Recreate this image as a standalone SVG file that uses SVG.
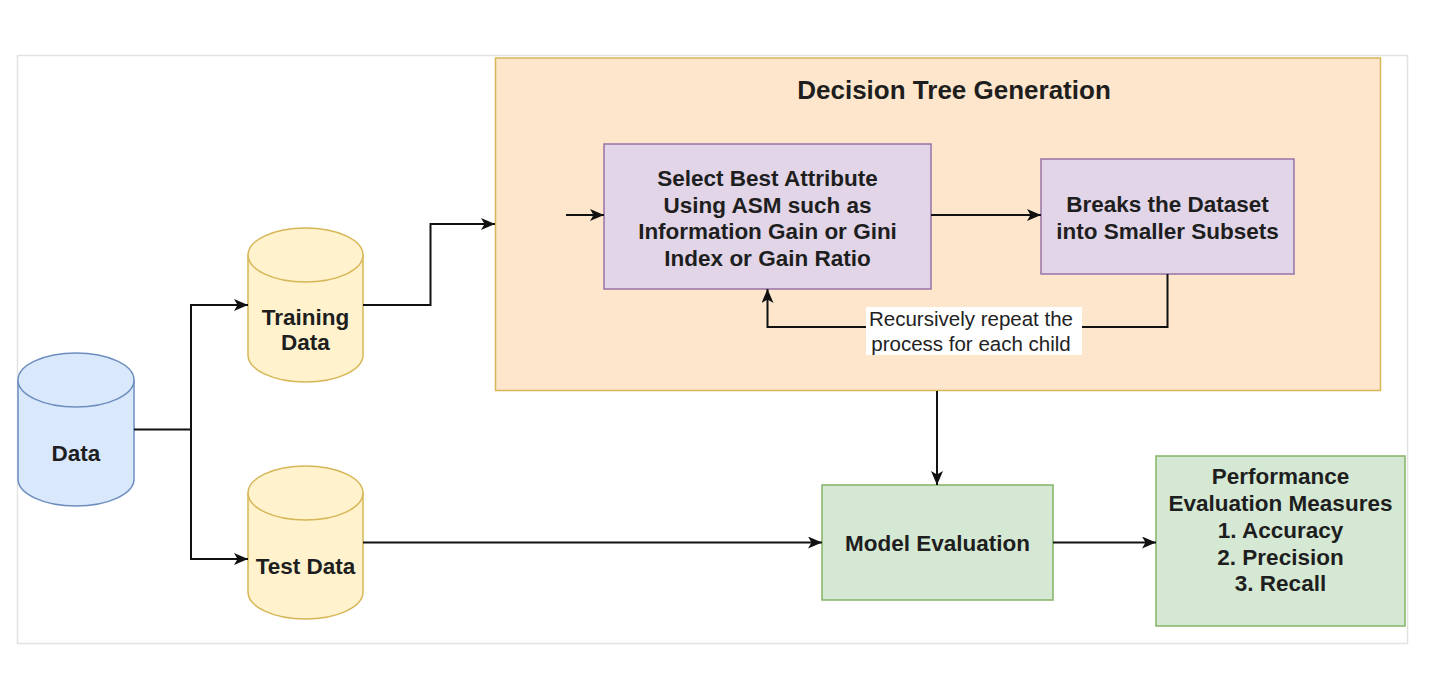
<svg xmlns="http://www.w3.org/2000/svg" width="1434" height="674" viewBox="0 0 1434 674">
<defs>
<style>
.t{font-family:"Liberation Sans",Arial,sans-serif;font-weight:bold;font-size:22.5px;fill:#1e1e1e;text-anchor:middle}
.ti{font-family:"Liberation Sans",Arial,sans-serif;font-weight:bold;font-size:26px;fill:#1e1e1e;text-anchor:middle}
.lb{font-family:"Liberation Sans",Arial,sans-serif;font-size:20.5px;fill:#222;text-anchor:middle}
.c{fill:none;stroke:#111;stroke-width:2}
.yel{fill:#fff2cc;stroke:#d6b656;stroke-width:1.5}
.blu{fill:#dae8fc;stroke:#6c8ebf;stroke-width:1.5}
.pur{fill:#e1d5e7;stroke:#9673a6;stroke-width:1.5}
.grn{fill:#d5e8d4;stroke:#82b366;stroke-width:1.5}
</style>
<marker id="ah" markerUnits="userSpaceOnUse" markerWidth="14" markerHeight="12" viewBox="0 0 14 12" refX="14" refY="6" orient="auto">
<path d="M0,0 L14,6 L0,12 L3.5,6 z" fill="#111"/>
</marker>
</defs>
<rect width="1434" height="674" fill="#fff"/>
<rect x="17.5" y="55.5" width="1390" height="588" fill="#fff" stroke="#e3e3e3" stroke-width="1.5"/>

<g id="dtg">
<rect x="495.5" y="58" width="885" height="332.5" fill="#fde6cc" stroke="#d6b656" stroke-width="1.5"/>
<text class="ti" x="954" y="99">Decision Tree Generation</text>
</g>

<g id="select">
<rect class="pur" x="604" y="144" width="327" height="145"/>
<text class="t" x="767.5" y="186">Select Best Attribute</text>
<text class="t" x="767.5" y="212.5">Using ASM such as</text>
<text class="t" x="767.5" y="239">Information Gain or Gini</text>
<text class="t" x="767.5" y="265.5">Index or Gain Ratio</text>
</g>

<g id="breaks">
<rect class="pur" x="1041" y="159" width="253" height="115"/>
<text class="t" x="1167.5" y="212">Breaks the Dataset</text>
<text class="t" x="1167.5" y="239">into Smaller Subsets</text>
</g>

<g id="data">
<path class="blu" d="M18,380 A58,27 0 0 1 134,380 L134,479 A58,27 0 0 1 18,479 Z"/>
<path class="blu" d="M18,380 A58,27 0 0 0 134,380" fill="none"/>
<text class="t" x="76" y="461">Data</text>
</g>

<g id="training">
<path class="yel" d="M248,255 A57.5,27 0 0 1 363,255 L363,355 A57.5,27 0 0 1 248,355 Z"/>
<path class="yel" d="M248,255 A57.5,27 0 0 0 363,255" fill="none"/>
<text class="t" x="305.5" y="325">Training</text>
<text class="t" x="305.5" y="350">Data</text>
</g>

<g id="test">
<path class="yel" d="M248,493 A57.5,27 0 0 1 363,493 L363,592 A57.5,27 0 0 1 248,592 Z"/>
<path class="yel" d="M248,493 A57.5,27 0 0 0 363,493" fill="none"/>
<text class="t" x="305.5" y="574">Test Data</text>
</g>

<g id="model">
<rect class="grn" x="822" y="485" width="231" height="115"/>
<text class="t" x="937.5" y="551">Model Evaluation</text>
</g>

<g id="perf">
<rect class="grn" x="1156" y="456" width="249" height="170"/>
<text class="t" x="1280.5" y="484">Performance</text>
<text class="t" x="1280.5" y="511">Evaluation Measures</text>
<text class="t" x="1280.5" y="538">1. Accuracy</text>
<text class="t" x="1280.5" y="565">2. Precision</text>
<text class="t" x="1280.5" y="591">3. Recall</text>
</g>

<g id="connectors">
<path class="c" d="M134,429.5 H191 V305 H248" marker-end="url(#ah)"/>
<path class="c" d="M191,429.5 V559 H248" marker-end="url(#ah)"/>
<path class="c" d="M363,305 H430.5 V224 H495" marker-end="url(#ah)"/>
<path class="c" d="M566,215 H604" stroke-width="1.5" marker-end="url(#ah)"/>
<path class="c" d="M931,215 H1041" marker-end="url(#ah)"/>
<path class="c" d="M1167.5,274 V327 H767.5 V289" marker-end="url(#ah)"/>
<path class="c" d="M937,391 V485" marker-end="url(#ah)"/>
<path class="c" d="M363,542.5 H822" marker-end="url(#ah)"/>
<path class="c" d="M1053,542.5 H1156" marker-end="url(#ah)"/>
<rect x="866" y="307" width="216" height="48" fill="#fff"/>
<text class="lb" x="971" y="325.5">Recursively repeat the</text>
<text class="lb" x="971" y="350.5">process for each child</text>
</g>
</svg>
